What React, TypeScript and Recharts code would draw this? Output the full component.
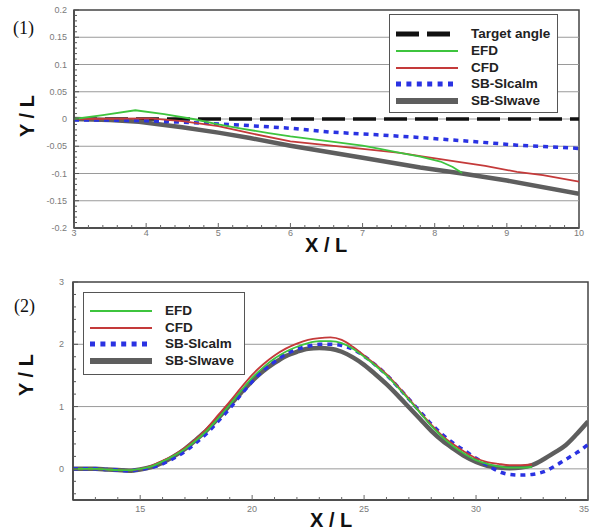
import React from 'react';
import { LineChart, Line, XAxis, YAxis, ReferenceLine, ReferenceArea } from 'recharts';

const SANS = 'Arial, "Liberation Sans", Helvetica, sans-serif';
const SERIF = '"Times New Roman", "Liberation Serif", serif';

// ---------- Panel (1): heading deviation, X/L 3..10 ----------
const p1XTicks = [3, 4, 5, 6, 7, 8, 9, 10];
const p1YTicks = [-0.2, -0.15, -0.1, -0.05, 0, 0.05, 0.1, 0.15, 0.2];

const p1TargetX = [3, 10];
const p1TargetY = [0, 0];

const p1EfdX = [3, 3.4, 3.85, 4.25, 4.65, 5.0, 5.3, 5.7, 6.0, 6.3, 6.6, 7.0, 7.24, 7.52, 7.8, 8.08, 8.25, 8.38];
const p1EfdY = [0, 0.007, 0.016, 0.009, 0.0, -0.01, -0.017, -0.026, -0.032, -0.037, -0.042, -0.049, -0.055, -0.062, -0.069, -0.078, -0.088, -0.099];

const p1CfdX = [3, 3.5, 4.05, 4.5, 5.0, 5.44, 6.0, 6.5, 7.0, 7.52, 7.8, 8.1, 8.35, 8.7, 9.14, 9.5, 10];
const p1CfdY = [0, 0.0005, 0.001, -0.004, -0.013, -0.026, -0.041, -0.048, -0.055, -0.062, -0.068, -0.074, -0.079, -0.086, -0.097, -0.103, -0.115];

const p1CalmX = [3, 3.5, 4.0, 4.5, 5.3, 6.0, 6.55, 7.2, 7.8, 8.5, 9.14, 10];
const p1CalmY = [-0.002, -0.002, -0.003, -0.006, -0.011, -0.017, -0.024, -0.029, -0.034, -0.041, -0.048, -0.054];

const p1WaveX = [3, 3.5, 3.9, 4.5, 5.0, 5.44, 6.0, 7.0, 7.8, 8.38, 9.0, 10];
const p1WaveY = [0, -0.002, -0.005, -0.015, -0.025, -0.035, -0.049, -0.071, -0.089, -0.1, -0.113, -0.137];

// ---------- Panel (2): trajectory, X/L 12..35 ----------
const p2XTicks = [15, 20, 25, 30, 35];
const p2YTicks = [0, 1, 2, 3];

const p2X = [
  12, 12.5, 13, 13.5, 14, 14.5, 15, 15.5, 16, 16.5, 17, 17.5, 18, 18.5, 19, 19.5, 20, 20.5, 21, 21.5,
  22, 22.5, 23, 23.5, 24, 24.5, 25, 25.5, 26, 26.5, 27, 27.5, 28, 28.5, 29, 29.5, 30, 30.5, 31, 31.5,
  32, 32.5, 33, 33.5, 34, 34.5, 35,
];

const p2Efd = [
  0, 0, 0, -0.01, -0.02, -0.02, 0, 0.04, 0.12, 0.21, 0.32, 0.46, 0.62, 0.82, 1.03, 1.25, 1.46, 1.63, 1.77, 1.88,
  1.96, 2.02, 2.05, 2.05, 2.02, 1.93, 1.8, 1.66, 1.5, 1.31, 1.11, 0.9, 0.69, 0.51, 0.36, 0.24, 0.14, 0.08, 0.04, 0.02,
  0.02, 0.03,
];

const p2Cfd = [
  0, 0, 0, -0.01, -0.02, -0.02, 0, 0.05, 0.13, 0.22, 0.34, 0.48, 0.66, 0.87, 1.08, 1.3, 1.51, 1.68, 1.82, 1.93,
  2.01, 2.07, 2.1, 2.11, 2.07, 1.96, 1.82, 1.68, 1.52, 1.33, 1.13, 0.91, 0.71, 0.53, 0.39, 0.27, 0.17, 0.11, 0.08, 0.06,
  0.06, 0.07,
];

const p2Calm = [
  0, 0, 0, -0.01, -0.02, -0.03, -0.01, 0.02, 0.08, 0.17, 0.28, 0.42, 0.58, 0.77, 0.97, 1.19, 1.4, 1.58, 1.72, 1.84,
  1.92, 1.97, 2.0, 2.0, 1.98, 1.92, 1.81, 1.67, 1.51, 1.32, 1.12, 0.92, 0.72, 0.55, 0.41, 0.29, 0.17, 0.06, -0.04, -0.09,
  -0.1, -0.09, -0.05, 0.04, 0.15, 0.26, 0.39,
];

const p2Wave = [
  0, 0, 0, -0.01, -0.02, -0.03, -0.01, 0.03, 0.1, 0.2, 0.32, 0.47, 0.63, 0.82, 1.02, 1.22, 1.41, 1.57, 1.7, 1.81,
  1.88, 1.93, 1.94, 1.93, 1.88, 1.79, 1.67, 1.52, 1.36, 1.18, 0.99, 0.8, 0.61, 0.45, 0.32, 0.2, 0.11, 0.05, 0.02, 0.01,
  0.02, 0.06, 0.15, 0.26, 0.38, 0.56, 0.76,
];

// ---------- series styling ----------
type Style = { name: string; color: string; width: number; dash?: string; legendWidth: number; legendDash?: string };
const TARGET: Style = { name: 'Target angle', color: '#111111', width: 3.5, dash: '23 8', legendWidth: 5, legendDash: '23 8' };
const EFD: Style = { name: 'EFD', color: '#3ec43e', width: 1.8, legendWidth: 2.2 };
const CFD: Style = { name: 'CFD', color: '#c43a3a', width: 1.8, legendWidth: 2.2 };
const CALM: Style = { name: 'SB-SIcalm', color: '#2a32e2', width: 3.5, dash: '5 5', legendWidth: 5, legendDash: '5 5.4' };
const WAVE: Style = { name: 'SB-SIwave', color: '#5e5e5e', width: 4.5, legendWidth: 6 };

const zip = (xs: number[], ys: number[]) => ys.map((y, i) => ({ x: xs[i], y }));

// minor tick positions along an axis
const steps = (from: number, to: number, step: number) => {
  const out: number[] = [];
  const n = Math.round((to - from) / step);
  for (let i = 0; i <= n; i++) out.push(Number((from + i * step).toFixed(4)));
  return out;
};

const isIn = (list: number[], v: number) => list.some((m) => Math.abs(m - v) < 1e-6);
const fmt = (v: number) => String(Number(v.toFixed(3)));

function makeYTick(majors: number[], left: number, labelGap: number) {
  return (props: any) => {
    const { y, payload } = props;
    const major = isIn(majors, payload.value);
    return (
      <g>
        <line x1={left} x2={left + (major ? 5 : 3)} y1={y} y2={y} stroke="#555" strokeWidth={1} />
        {major && (
          <text x={left - labelGap} y={y} dy={3} textAnchor="end" fontSize={9} fill="#7a7a7a" fontFamily={SANS}>
            {fmt(payload.value)}
          </text>
        )}
      </g>
    );
  };
}

function makeXTick(majors: number[], bottom: number, labelGap: number, maxLabelX: number) {
  return (props: any) => {
    const { x, payload } = props;
    const major = isIn(majors, payload.value);
    return (
      <g>
        <line x1={x} x2={x} y1={bottom} y2={bottom - (major ? 5 : 3)} stroke="#666" strokeWidth={1} />
        {major && (
          <text x={Math.min(x, maxLabelX)} y={bottom + labelGap} textAnchor="middle" fontSize={9} fill="#7a7a7a" fontFamily={SANS}>
            {fmt(payload.value)}
          </text>
        )}
      </g>
    );
  };
}

function LegendBox({ items, left, top, width, height, firstRow, rowGap }: {
  items: Style[]; left: number; top: number; width: number; height: number; firstRow: number; rowGap: number;
}) {
  return (
    <div
      style={{
        position: 'absolute', left, top, width, height, boxSizing: 'border-box',
        border: '1px solid #555', background: '#fff',
      }}
    >
      {items.map((s, i) => {
        const cy = firstRow + i * rowGap;
        return (
          <div key={s.name} style={{ position: 'absolute', left: 0, top: cy - 9, height: 18, width: '100%' }}>
            <svg width={72} height={18} style={{ position: 'absolute', left: 0, top: 0 }}>
              <line x1={6} x2={68} y1={9} y2={9} stroke={s.color} strokeWidth={s.legendWidth} strokeDasharray={s.legendDash} />
            </svg>
            <span
              style={{
                position: 'absolute', left: 81, top: 0, lineHeight: '18px', fontFamily: SANS,
                fontWeight: 'bold', fontSize: 13.5, color: '#222', whiteSpace: 'nowrap',
              }}
            >
              {s.name}
            </span>
          </div>
        );
      })}
    </div>
  );
}

const axisTitle: React.CSSProperties = {
  position: 'absolute', fontFamily: SANS, fontWeight: 'bold', fontSize: 20, color: '#111', whiteSpace: 'nowrap',
};
const panelTag: React.CSSProperties = {
  position: 'absolute', fontFamily: SERIF, fontSize: 18, color: '#111', whiteSpace: 'nowrap',
};

function renderLine(key: string, s: Style, data: { x: number; y: number }[], type: 'linear' | 'monotone') {
  return (
    <Line
      key={key}
      data={data}
      dataKey="y"
      type={type}
      stroke={s.color}
      strokeWidth={s.width}
      strokeDasharray={s.dash}
      dot={false}
      activeDot={false}
      isAnimationActive={false}
      name={s.name}
    />
  );
}

function PanelOne() {
  const left = 74, right = 579, top = 10, bottom = 228, W = 591, H = 260;
  const yAxisW = 40, xAxisH = 20;
  const yMinor = steps(-0.2, 0.2, 0.01);
  const xMinor = steps(3, 10, 0.2);
  return (
    <div style={{ position: 'absolute', left: 0, top: 0, width: W, height: H }}>
      <LineChart
        width={W}
        height={H}
        margin={{ top, right: W - right, bottom: H - bottom - xAxisH, left: left - yAxisW }}
      >
        <XAxis
          dataKey="x"
          type="number"
          domain={[3, 10]}
          ticks={xMinor}
          interval={0}
          height={xAxisH}
          tickLine={false}
          axisLine={{ stroke: '#444', strokeWidth: 1.5 }}
          tick={makeXTick(p1XTicks, bottom, 8, W - 7)}
          allowDataOverflow
        />
        <YAxis
          type="number"
          domain={[-0.2, 0.2]}
          ticks={yMinor}
          interval={0}
          width={yAxisW}
          tickLine={false}
          axisLine={{ stroke: '#444', strokeWidth: 1.5 }}
          tick={makeYTick(p1YTicks, left, 7)}
          allowDataOverflow
        />
        {p1YTicks.slice(1, -1).map((v) => (
          <ReferenceLine key={v} y={v} stroke="#9a9a9a" strokeWidth={1} />
        ))}
        <ReferenceArea x1={3} x2={10} y1={-0.2} y2={0.2} fill="none" stroke="#444" strokeWidth={1.5} />
        {renderLine('target', TARGET, zip(p1TargetX, p1TargetY), 'linear')}
        {renderLine('wave', WAVE, zip(p1WaveX, p1WaveY), 'linear')}
        {renderLine('calm', CALM, zip(p1CalmX, p1CalmY), 'linear')}
        {renderLine('cfd', CFD, zip(p1CfdX, p1CfdY), 'linear')}
        {renderLine('efd', EFD, zip(p1EfdX, p1EfdY), 'linear')}
      </LineChart>
      <LegendBox items={[TARGET, EFD, CFD, CALM, WAVE]} left={389} top={14} width={169} height={99} firstRow={19} rowGap={16.75} />
      <div style={{ ...panelTag, left: 13, top: 18 }}>(1)</div>
      <div style={{ ...axisTitle, left: 305, top: 234 }}>X / L</div>
      <div style={{ ...axisTitle, left: 27, top: 116, transform: 'translate(-50%, -50%) rotate(-90deg)' }}>Y / L</div>
    </div>
  );
}

function PanelTwo() {
  const left = 73, right = 588, top = 22, bottom = 240, W = 591, H = 271;
  const yAxisW = 40, xAxisH = 20;
  const yMinor = steps(-0.4, 3, 0.2);
  const xMinor = steps(13, 35, 1);
  return (
    <div style={{ position: 'absolute', left: 0, top: 260, width: W, height: H }}>
      <LineChart
        width={W}
        height={H}
        margin={{ top, right: W - right, bottom: H - bottom - xAxisH, left: left - yAxisW }}
      >
        <XAxis
          dataKey="x"
          type="number"
          domain={[12, 35]}
          ticks={xMinor}
          interval={0}
          height={xAxisH}
          tickLine={false}
          axisLine={{ stroke: '#444', strokeWidth: 1.5 }}
          tick={makeXTick(p2XTicks, bottom, 12, W - 7)}
          allowDataOverflow
        />
        <YAxis
          type="number"
          domain={[-0.5, 3]}
          ticks={yMinor}
          interval={0}
          width={yAxisW}
          tickLine={false}
          axisLine={{ stroke: '#444', strokeWidth: 1.5 }}
          tick={makeYTick(p2YTicks, left, 9)}
          allowDataOverflow
        />
        {p2YTicks.slice(0, -1).map((v) => (
          <ReferenceLine key={v} y={v} stroke="#9a9a9a" strokeWidth={1} />
        ))}
        <ReferenceArea x1={12} x2={35} y1={-0.5} y2={3} fill="none" stroke="#444" strokeWidth={1.5} />
        {renderLine('wave', WAVE, zip(p2X, p2Wave), 'monotone')}
        {renderLine('calm', CALM, zip(p2X, p2Calm), 'monotone')}
        {renderLine('cfd', CFD, zip(p2X, p2Cfd), 'monotone')}
        {renderLine('efd', EFD, zip(p2X, p2Efd), 'monotone')}
      </LineChart>
      <LegendBox items={[EFD, CFD, CALM, WAVE]} left={83} top={32} width={162} height={83} firstRow={18} rowGap={16.7} />
      <div style={{ ...panelTag, left: 14, top: 36 }}>(2)</div>
      <div style={{ ...axisTitle, left: 310, top: 249 }}>X / L</div>
      <div style={{ ...axisTitle, left: 26, top: 115, transform: 'translate(-50%, -50%) rotate(-90deg)' }}>Y / L</div>
    </div>
  );
}

export default function App() {
  return (
    <div style={{ position: 'absolute', left: 0, top: 0, width: 591, height: 531, background: '#fff', overflow: 'hidden' }}>
      <PanelOne />
      <PanelTwo />
    </div>
  );
}
